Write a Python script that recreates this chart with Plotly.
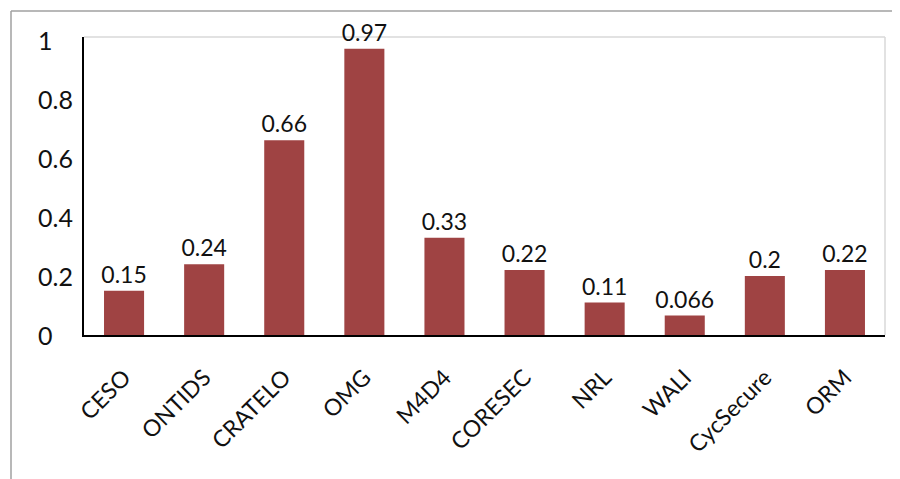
import plotly.graph_objects as go

categories = ["CESO", "ONTIDS", "CRATELO", "OMG", "M4D4", "CORESEC", "NRL", "WALI", "CycSecure", "ORM"]
values = [0.15, 0.24, 0.66, 0.97, 0.33, 0.22, 0.11, 0.066, 0.2, 0.22]
value_labels = ["0.15", "0.24", "0.66", "0.97", "0.33", "0.22", "0.11", "0.066", "0.2", "0.22"]
y_ticks = [0, 0.2, 0.4, 0.6, 0.8, 1]
y_tick_labels = ["0", "0.2", "0.4", "0.6", "0.8", "1"]

FONT = "Lato"
BAR = "#9f4343"

fig = go.Figure()
fig.add_trace(go.Bar(
    x=categories, y=values, text=value_labels,
    textposition="outside", cliponaxis=False,
    textfont=dict(family=FONT, size=23, color="#111"),
    marker=dict(color=BAR, line=dict(width=0)),
))

# page body has an 8px offset, compensate
OFF = 8
W, H = 900, 479
L, T = 84 - OFF, 37 - OFF
R = W - (885 - OFF)
B = H - (335 - OFF)
pw, ph = W - L - R, H - T - B

annotations = []
for v, t in zip(y_ticks, y_tick_labels):
    annotations.append(dict(
        x=0, xref="paper", y=v, yref="y", text=t, showarrow=False,
        xanchor="left", yanchor="middle", xshift=-48,
        font=dict(family=FONT, size=25, color="#111"),
    ))

fx0 = (11 - 84) / pw
fy0 = 1 + (37 - 11) / ph
shapes = [
    dict(type="line", xref="paper", yref="paper", x0=0, x1=1, y0=1, y1=1,
         line=dict(color="#d9d9d9", width=1.5), layer="below"),
    dict(type="line", xref="paper", yref="paper", x0=1, x1=1, y0=0, y1=1,
         line=dict(color="#d9d9d9", width=1.5), layer="below"),
    dict(type="line", xref="paper", yref="paper", x0=fx0, x1=fx0, y0=fy0, y1=-1.0,
         line=dict(color="#a0a0a0", width=1.5)),
    dict(type="line", xref="paper", yref="paper", x0=fx0, x1=1.2, y0=fy0, y1=fy0,
         line=dict(color="#a0a0a0", width=1.5)),
]

fig.update_layout(
    width=W, height=H,
    margin=dict(l=L, r=R, t=T, b=B),
    paper_bgcolor="white", plot_bgcolor="white",
    bargap=0.5, showlegend=False,
    font=dict(family=FONT, color="#111"),
    uniformtext=dict(minsize=23, mode="show"),
    annotations=annotations, shapes=shapes,
)
fig.update_xaxes(
    showline=True, linecolor="black", linewidth=2,
    tickangle=-45, tickfont=dict(family=FONT, size=23, color="#111"),
    ticks="", showgrid=False, ticklabelstandoff=18,
)
fig.update_yaxes(
    range=[0, 1.01], showline=True, linecolor="black", linewidth=2,
    tickvals=y_ticks, showticklabels=False, ticks="", showgrid=False, zeroline=False,
)

fig.write_html("out.html")
